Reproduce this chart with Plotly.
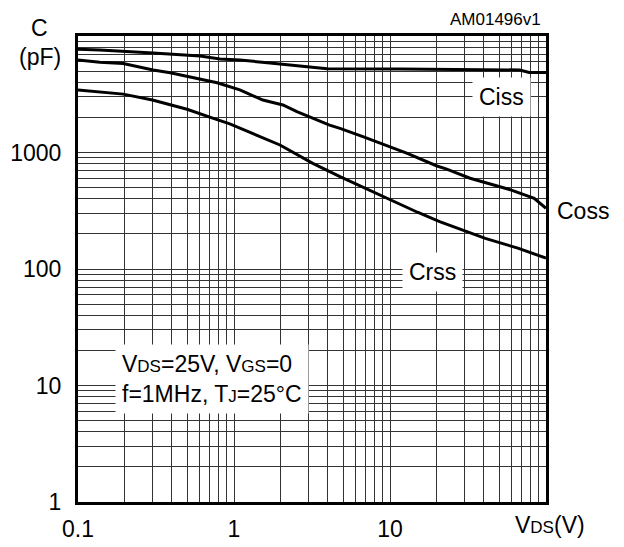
import math
import plotly.graph_objects as go

# ---- data ----
ciss_v = [0.1, 0.138, 0.303, 0.605, 0.814, 1.09, 1.70, 2.53, 3.95, 11.6, 28, 68, 78, 100]
ciss_c = [7690, 7590, 7140, 6730, 6350, 6220, 5870, 5530, 5240, 5210, 5180, 5110, 4860, 4860]

coss_v = [0.1, 0.138, 0.195, 0.303, 0.39, 0.58, 0.78, 1.09, 1.53, 2.06, 2.53, 4.1, 4.78, 6.7, 10, 12.9, 20, 23.1, 32.6, 60, 84, 100]
coss_c = [6220, 5940, 5800, 5100, 4840, 4340, 3970, 3450, 2820, 2560, 2240, 1720, 1610, 1370, 1122, 984, 766, 721, 601, 476, 404, 332]

crss_v = [0.1, 0.195, 0.30, 0.50, 0.73, 0.94, 1.97, 3.2, 4.78, 10, 15, 20.8, 32.6, 40.8, 66, 100]
crss_c = [3440, 3170, 2820, 2350, 1970, 1760, 1160, 807, 620, 391, 307, 255, 205, 183, 151, 124]

x_ticks = [0.1, 1, 10, 100]
x_ticktext = ["0.1", "1", "10", ""]
y_ticks = [1, 10, 100, 1000, 10000]
y_ticktext = ["1", "10", "100", "1000", ""]

x_minor = [m * d for d in [0.1, 1, 10] for m in range(2, 10)]
y_minor = [m * d for d in [1, 10, 100, 1000] for m in range(2, 10)]

FONT = "Liberation Sans, Arial, sans-serif"
FS = 23
SUB = "<span style='font-size:17px'>{}</span>"

# page offset compensation (browser body margin)
OFF = 8
W, H = 624 - OFF, 547 - OFF
PL, PR, PT, PB = 78, 546, 36, 502  # plot box in page pixels

fig = go.Figure()
for xv, yv in [(ciss_v, ciss_c), (coss_v, coss_c), (crss_v, crss_c)]:
    fig.add_trace(go.Scatter(x=xv, y=yv, mode="lines",
                             line=dict(color="black", width=3), showlegend=False))

grid = dict(showgrid=True, gridcolor="#333333", gridwidth=1)
fig.update_xaxes(type="log", range=[-1, 2], tickmode="array", tickvals=x_ticks,
                 ticktext=x_ticktext, showline=True, linecolor="black", linewidth=3,
                 mirror=True, ticks="", zeroline=False, automargin=False,
                 ticklabelstandoff=4, **grid,
                 tickfont=dict(family=FONT, size=FS, color="black"),
                 minor=dict(tickmode="array", tickvals=x_minor, **grid))
fig.update_yaxes(type="log", range=[0, 4], tickmode="array", tickvals=y_ticks,
                 ticktext=y_ticktext, showline=True, linecolor="black", linewidth=3,
                 mirror=True, ticks="", zeroline=False, automargin=False,
                 ticklabelstandoff=9, **grid,
                 tickfont=dict(family=FONT, size=FS, color="black"),
                 minor=dict(tickmode="array", tickvals=y_minor, **grid))

ann_font = dict(family=FONT, size=FS, color="black")
L = math.log10
fig.add_annotation(x=L(51.5), y=L(2990), xref="x", yref="y", text="Ciss", showarrow=False,
                   font=ann_font, bgcolor="white", borderpad=6)
fig.add_annotation(x=L(18.6), y=L(94), xref="x", yref="y", text="Crss", showarrow=False,
                   font=ann_font, bgcolor="white", borderpad=6)
fig.add_annotation(x=L(0.722), y=L(11.4), xref="x", yref="y", align="left",
                   text="V" + SUB.format("DS") + "=25V, V" + SUB.format("GS") + "=0<br>"
                        "f=1MHz, T" + SUB.format("J") + "=25°C",
                   showarrow=False, font=ann_font, bgcolor="white", borderpad=6)


def px(xp, yp):
    return (xp - PL) / (PR - PL), (PB - yp) / (PB - PT)


for txt, (xp, yp), anchor, size in [
    ("C", (39, 28), "center", FS),
    ("(pF)", (40, 57), "center", FS),
    ("Coss", (583, 211), "center", FS),
    ("AM01496v1", (543, 19), "right", 17),
    ("V" + SUB.format("DS") + "(V)", (587, 525), "right", FS),
]:
    fx, fy = px(xp, yp)
    fig.add_annotation(x=fx, y=fy, xref="paper", yref="paper", text=txt,
                       showarrow=False, xanchor=anchor, yanchor="middle",
                       font=dict(family=FONT, size=size, color="black"))

fig.update_layout(width=W, height=H,
                  margin=dict(l=PL - OFF, r=624 - PR, t=PT - OFF, b=547 - PB),
                  plot_bgcolor="white", paper_bgcolor="white")
fig.write_html("out.html")
